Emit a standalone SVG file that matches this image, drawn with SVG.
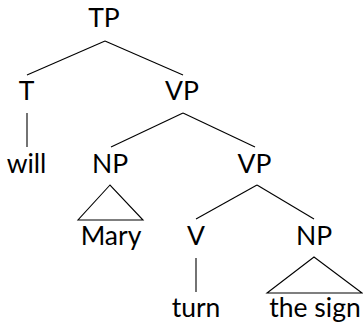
<svg xmlns="http://www.w3.org/2000/svg" width="363" height="325" viewBox="0 0 363 325">
<style>
text{font-family:"Lato","Open Sans","Liberation Sans",sans-serif;font-size:26.5px;fill:#000;text-anchor:middle}
line,polygon{stroke:#000;stroke-width:1.1;fill:none}
</style>
<rect width="363" height="325" fill="#fff"/>
<g id="connectors">
<line x1="105" y1="41" x2="27" y2="75"/>
<line x1="105" y1="41" x2="183" y2="75"/>
<line x1="27" y1="113" x2="27" y2="147"/>
<line x1="183" y1="113" x2="111" y2="147"/>
<line x1="183" y1="113" x2="255" y2="147"/>
<line x1="257" y1="185" x2="196" y2="219"/>
<line x1="257" y1="185" x2="314" y2="219"/>
<line x1="196" y1="258" x2="196" y2="292"/>
<polygon points="110,185 78,220 143,220"/>
<polygon points="314,257 267,293 362,293"/>
</g>
<g id="TP"><text x="104" y="27">TP</text></g>
<g id="T"><text x="26.5" y="100">T</text></g>
<g id="VP"><text x="182" y="100">VP</text></g>
<g id="will"><text x="26.5" y="173">will</text></g>
<g id="NP1"><text x="110" y="173">NP</text></g>
<g id="VP2"><text x="254.5" y="173">VP</text></g>
<g id="Mary"><text x="111" y="245">Mary</text></g>
<g id="V"><text x="196" y="245">V</text></g>
<g id="NP2"><text x="314" y="245">NP</text></g>
<g id="turn"><text x="196" y="317">turn</text></g>
<g id="the-sign"><text x="315" y="317">the sign</text></g>
</svg>
